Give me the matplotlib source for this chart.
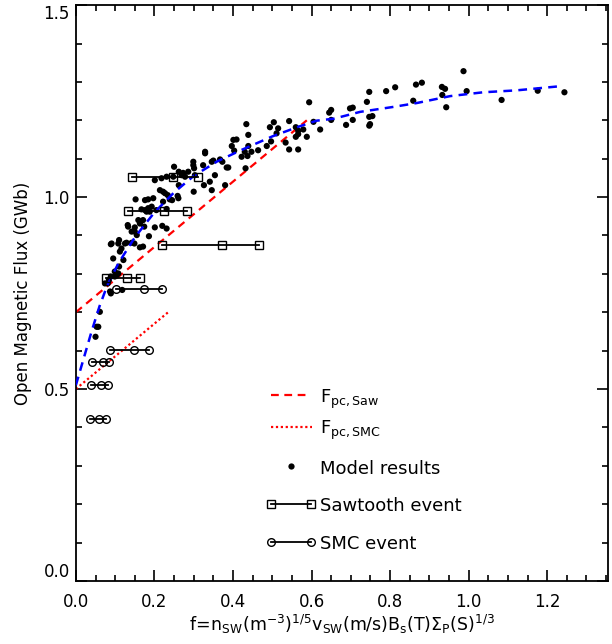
import matplotlib
matplotlib.use("Agg")
import matplotlib.pyplot as plt
from matplotlib.ticker import MultipleLocator

# model results (scatter)
model_x = [0.434, 0.439, 0.494, 0.504, 0.543, 0.560, 0.566, 0.579, 0.588, 0.560,
           0.566, 0.497, 0.486, 0.511, 0.515, 0.534, 0.543, 0.566, 0.605, 0.397,
           0.401, 0.409, 0.439, 0.447, 0.464, 0.422, 0.430, 0.437, 0.432, 0.403,
           0.388, 0.384, 0.380, 0.373, 0.367, 0.350, 0.346, 0.354, 0.341, 0.329,
           0.329, 0.324, 0.326, 0.346, 0.299, 0.299, 0.301, 0.303, 0.300, 0.286,
           0.278, 0.273, 0.269, 0.262, 0.250, 0.262, 0.248, 0.231, 0.218, 0.201,
           0.214, 0.227, 0.222, 0.234, 0.239, 0.245, 0.259, 0.261, 0.222, 0.197,
           0.184, 0.176, 0.152, 0.193, 0.184, 0.188, 0.180, 0.176, 0.167, 0.205,
           0.231, 0.171, 0.174, 0.163, 0.159, 0.132, 0.133, 0.150, 0.150, 0.155,
           0.142, 0.201, 0.220, 0.231, 0.186, 0.171, 0.163, 0.149, 0.142, 0.129,
           0.125, 0.110, 0.108, 0.091, 0.089, 0.116, 0.112, 0.095, 0.121, 0.110,
           0.099, 0.104, 0.108, 0.099, 0.089, 0.084, 0.081, 0.087, 0.074, 0.089,
           0.118, 0.061, 0.057, 0.053, 0.050,
           0.594, 0.622, 0.645, 0.650, 0.650, 0.688, 0.698, 0.705, 0.705, 0.741,
           0.747, 0.747, 0.755, 0.747, 0.749, 0.790, 0.813, 0.859, 0.866, 0.881,
           0.932, 0.940, 0.933, 0.943, 0.987, 0.995, 1.084, 1.176, 1.244]
model_y = [1.190, 1.162, 1.182, 1.195, 1.198, 1.182, 1.173, 1.176, 1.157, 1.157,
           1.164, 1.145, 1.133, 1.166, 1.179, 1.142, 1.124, 1.124, 1.196, 1.133,
           1.149, 1.150, 1.133, 1.118, 1.122, 1.105, 1.118, 1.107, 1.075, 1.121,
           1.077, 1.077, 1.031, 1.092, 1.098, 1.095, 1.092, 1.057, 1.040, 1.118,
           1.114, 1.083, 1.031, 1.018, 1.092, 1.083, 1.075, 1.057, 1.014, 1.066,
           1.053, 1.063, 1.057, 1.066, 1.079, 1.031, 1.053, 1.053, 1.049, 1.044,
           1.018, 1.010, 1.014, 1.005, 0.994, 0.992, 1.003, 0.997, 0.988, 0.997,
           0.994, 0.992, 0.994, 0.975, 0.971, 0.962, 0.962, 0.966, 0.968, 0.966,
           0.969, 0.940, 0.923, 0.931, 0.940, 0.927, 0.923, 0.921, 0.910, 0.901,
           0.910, 0.921, 0.925, 0.918, 0.898, 0.871, 0.869, 0.879, 0.881, 0.881,
           0.879, 0.888, 0.879, 0.879, 0.877, 0.866, 0.858, 0.840, 0.836, 0.819,
           0.806, 0.797, 0.801, 0.793, 0.793, 0.784, 0.775, 0.754, 0.775, 0.749,
           0.758, 0.701, 0.662, 0.662, 0.636,
           1.247, 1.176, 1.220, 1.227, 1.201, 1.188, 1.231, 1.233, 1.201, 1.248,
           1.274, 1.209, 1.211, 1.186, 1.190, 1.276, 1.286, 1.251, 1.293, 1.298,
           1.287, 1.282, 1.266, 1.234, 1.328, 1.276, 1.253, 1.277, 1.273]

# blue dashed fit through model results
fit_x = [0.0, 0.02, 0.04, 0.06, 0.08, 0.108, 0.15, 0.20, 0.25, 0.30, 0.36, 0.42,
         0.50, 0.566, 0.613, 0.656, 0.724, 0.809, 0.868, 0.953, 1.037, 1.122, 1.235]
fit_y = [0.51, 0.58, 0.65, 0.715, 0.77, 0.827, 0.895, 0.96, 1.012, 1.055, 1.093,
         1.122, 1.158, 1.183, 1.199, 1.204, 1.222, 1.235, 1.245, 1.263, 1.273,
         1.278, 1.289]

# Fpc lines
saw_fit_x = [0.0, 0.588]
saw_fit_y = [0.70, 1.20]
smc_fit_x = [0.0, 0.235]
smc_fit_y = [0.50, 0.70]

# sawtooth events (flux, three f values each)
saw_y = [1.051, 0.964, 0.875, 0.789]
saw_x = [[0.144, 0.248, 0.312],
         [0.132, 0.225, 0.284],
         [0.218, 0.371, 0.466],
         [0.077, 0.131, 0.164]]

# SMC events
smc_y = [0.761, 0.601, 0.571, 0.510, 0.422]
smc_x = [[0.102, 0.174, 0.218],
         [0.087, 0.148, 0.185],
         [0.040, 0.068, 0.085],
         [0.038, 0.063, 0.081],
         [0.036, 0.059, 0.076]]

legend_labels = [r'$\mathregular{F_{pc,Saw}}$', r'$\mathregular{F_{pc,SMC}}$',
                 'Model results', 'Sawtooth event', 'SMC event']

yticks = [0.0, 0.5, 1.0, 1.5]
xticks = [0.0, 0.2, 0.4, 0.6, 0.8, 1.0, 1.2]

plt.rcParams['font.family'] = ['DejaVu Sans']
plt.rcParams['mathtext.fontset'] = 'dejavusans'

fig = plt.figure(figsize=(6.12, 6.44), dpi=100)
ax = fig.add_axes([0.124, 0.098, 0.8695, 0.894])

dash = (3.5, 2.5)
dot = (0, (1, 1.2))
ev_style = dict(color='black', lw=1.3, ms=5.5, mfc='none', mec='black', mew=1.0)

ax.plot(saw_fit_x, saw_fit_y, color='red', lw=1.6, dashes=dash)
ax.plot(smc_fit_x, smc_fit_y, color='red', lw=1.6, linestyle=dot)
ax.scatter(model_x, model_y, s=20, color='black', edgecolors='none', zorder=3)
ax.plot(fit_x, fit_y, color='blue', lw=1.8, dashes=dash, zorder=4)

for xs, y in zip(saw_x, saw_y):
    ax.plot(xs, [y] * len(xs), marker='s', zorder=5, **ev_style)
for xs, y in zip(smc_x, smc_y):
    ax.plot(xs, [y] * len(xs), marker='o', zorder=5, **ev_style)

# hand-placed key, in axes fractions
tr = ax.transAxes
kx0, kx1, tx = 0.367, 0.441, 0.458
ky = [0.3227, 0.268, 0.1993, 0.1337, 0.0673]
ty = [0.3095, 0.2552, 0.1858, 0.122, 0.055]
ax.plot([kx0, 0.434], [ky[0]] * 2, transform=tr, color='red', lw=1.6, dashes=dash)
ax.plot([kx0, 0.443], [ky[1]] * 2, transform=tr, color='red', lw=1.6, linestyle=dot)
ax.plot([(kx0 + kx1) / 2], [ky[2]], transform=tr, marker='o', ms=4.5,
        color='black', mec='none')
ax.plot([kx0, kx1], [ky[3]] * 2, transform=tr, marker='s', **ev_style)
ax.plot([kx0, kx1], [ky[4]] * 2, transform=tr, marker='o', **ev_style)
for lab, y in zip(legend_labels, ty):
    ax.text(tx, y, lab, transform=tr, fontsize=13, va='baseline', ha='left')

ax.set_xlim(0, 1.355)
ax.set_ylim(0, 1.5)
ax.set_xticks(xticks, [f'{v:.1f}' for v in xticks])
ax.set_yticks(yticks, [f'{v:.1f}' for v in yticks])
ax.xaxis.set_minor_locator(MultipleLocator(0.05))
ax.yaxis.set_minor_locator(MultipleLocator(0.1))
ax.tick_params(which='both', direction='in', top=True, right=True, width=1.2)
ax.tick_params(which='major', length=8)
ax.tick_params(which='minor', length=4.5)
ax.tick_params(axis='x', labelsize=12, pad=9)
ax.tick_params(axis='y', labelsize=12, pad=4.5)
for sp in ax.spines.values():
    sp.set_linewidth(1.3)

# end labels sit inside the axis span, as in the original
for lab in ax.get_yticklabels():
    if lab.get_text() == '1.5':
        lab.set_verticalalignment('top')
    elif lab.get_text() == '0.0':
        lab.set_verticalalignment('bottom')

ax.set_xlabel(r'$\mathregular{f\!=\!n_{SW}(m^{-3})^{1/5}v_{SW}(m/s)B_s(T)\Sigma_P(S)^{1/3}}$',
              fontsize=12.5, labelpad=1)
ax.set_ylabel('Open Magnetic Flux (GWb)', fontsize=12, labelpad=8)

fig.savefig('out.png', dpi=100)
